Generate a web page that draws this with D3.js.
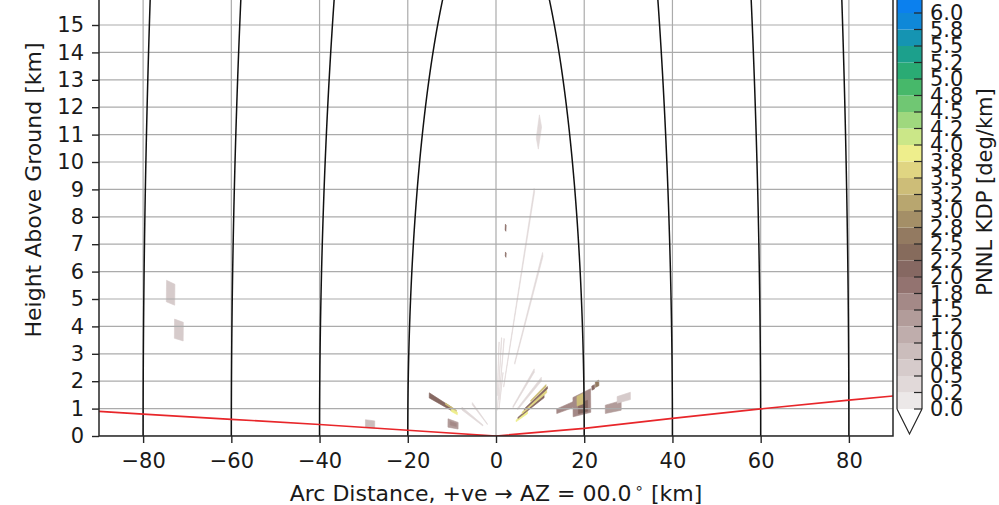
<!DOCTYPE html>
<html>
<head>
<meta charset="utf-8">
<script src="https://cdn.jsdelivr.net/npm/d3@7"></script>
<style>
  body { margin: 0; background: #fff; }
  svg { display: block; }
  text { font-family: "DejaVu Sans", sans-serif; fill: #1a1a1a; }
</style>
</head>
<body>
<svg id="chart" width="999" height="505"></svg>
<script>
// ---- axis ticks ----
const xTicks = [-80, -60, -40, -20, 0, 20, 40, 60, 80];
const yTicks = [0, 1, 2, 3, 4, 5, 6, 7, 8, 9, 10, 11, 12, 13, 14, 15];

// ---- slant-range rings (km) ----
const rangeRings = [20, 40, 60, 80];

// ---- lowest beam height along the cross-section ----
const beamDist   = [-90, -80, -60, -40, -20, 0, 20, 40, 60, 80, 90];
const beamHeight = [0.90, 0.80, 0.61, 0.42, 0.21, 0, 0.28, 0.64, 0.99, 1.31, 1.46];

// ---- KDP colour levels ----
const kdpLevels = [0, 0.25, 0.5, 0.75, 1.0, 1.25, 1.5, 1.75, 2.0, 2.25, 2.5, 2.75,
                   3.0, 3.25, 3.5, 3.75, 4.0, 4.25, 4.5, 4.75, 5.0, 5.25, 5.5, 5.75, 6.0];
const kdpTickLabels = ["0.0", "0.2", "0.5", "0.8", "1.0", "1.2", "1.5", "1.8", "2.0", "2.2", "2.5", "2.8",
                       "3.0", "3.2", "3.5", "3.8", "4.0", "4.2", "4.5", "4.8", "5.0", "5.2", "5.5", "5.8", "6.0"];
const kdpColors = ["#ece8e8", "#e1d9d9", "#d6cbcb", "#cbbdbc", "#bfadac", "#b29c9a", "#a48987",
                   "#937370", "#866862", "#866b5c", "#937a61", "#a48f67", "#b8a66f", "#cdbd78",
                   "#e0d582", "#eeee8c", "#cbe788", "#9fd87e", "#70c773", "#47b86a", "#2aab74",
                   "#1ca08c", "#1594b2", "#0f88d8", "#0b80ee"];

// ---- KDP gates: [side (+1/-1), elevation lo (deg), elevation hi (deg), range lo (km), range hi (km), KDP] ----
const kdpGates = [
  // far-range light echoes
  [-1, 3.75, 4.35, 73.0, 74.9, 0.6],
  [-1, 2.80, 3.35, 71.0, 73.0, 0.6],
  [-1, 0.60, 1.15, 27.5, 29.6, 0.9],
  // west of the radar
  [-1, 5.25, 5.95, 10.0, 15.2, 2.0],
  [-1, 5.05, 5.65, 8.8, 10.2, 3.9],
  [-1, 5.75, 6.00, 9.0, 11.5, 3.4],
  [-1, 1.70, 3.30, 8.6, 10.9, 1.3],
  [-1, 2.20, 2.90, 9.0, 10.4, 1.7],
  [-1, 7.0, 7.8, 3.0, 7.8, 0.4],
  [-1, 12.0, 12.8, 2.0, 5.5, 0.4],
  // east of the radar, near ground
  [1, 6.5, 7.3, 4.6, 7.2, 3.8],
  [1, 7.3, 7.8, 5.0, 11.0, 2.0],
  [1, 7.8, 8.4, 6.0, 11.6, 3.6],
  [1, 8.4, 8.8, 6.5, 11.8, 2.0],
  [1, 9.0, 9.4, 8.0, 11.5, 3.3],
  [1, 3.4, 4.1, 13.8, 17.5, 1.6],
  [1, 2.3, 4.6, 17.5, 21.5, 1.5],
  [1, 2.5, 3.6, 18.7, 20.8, 2.0],
  [1, 3.4, 4.5, 18.4, 19.9, 3.4],
  [1, 4.4, 4.8, 21.8, 22.4, 2.1],
  [1, 4.5, 5.0, 22.6, 23.4, 2.6],
  [1, 1.9, 2.6, 24.8, 28.4, 1.4],
  [1, 2.5, 3.0, 27.5, 30.5, 0.6],
  // weak returns aloft
  [1, 45.5, 46.3, 2.5, 12.5, 0.4],
  [1, 31.6, 32.4, 5.0, 12.5, 0.4],
  [1, 47.5, 50.0, 14.2, 15.3, 0.4],
  [1, 11.0, 11.8, 5.0, 10.5, 0.4],
  [1, 15.0, 15.8, 4.0, 9.0, 0.4],
  [1, 55.0, 56.0, 1.2, 2.8, 0.4],
  [1, 62.0, 63.0, 1.5, 4.0, 0.4],
  [1, 70.0, 71.0, 1.0, 3.8, 0.4],
  [1, 78.0, 79.0, 1.5, 3.5, 0.4],
  [1, 73.3, 74.6, 7.8, 8.02, 2.0],
  [1, 70.9, 72.3, 6.9, 7.05, 2.0]
];

// ---- layout ----
const svg = d3.select("#chart");
const plot = { left: 99, right: 893, bottom: 436 };
const x = d3.scaleLinear().domain([-90, 90]).range([plot.left, plot.right]);
const y = d3.scaleLinear().domain([0, 16]).range([plot.bottom, plot.bottom - 16 * 27.4]);
const plotTop = y(16);

const color = d3.scaleThreshold().domain(kdpLevels.slice(1)).range(kdpColors);

svg.append("defs").append("clipPath").attr("id", "plotClip")
  .append("rect").attr("x", plot.left).attr("y", plotTop)
  .attr("width", plot.right - plot.left).attr("height", plot.bottom - plotTop);

const inner = svg.append("g").attr("clip-path", "url(#plotClip)");

// gates as polar sectors mapped to arc distance / height
const deg = Math.PI / 180;
const gatePath = ([s, e0, e1, r0, r1]) => {
  const pts = [[r0, e0], [r1, e0], [r1, e1], [r0, e1]]
    .map(([r, e]) => [x(s * r * Math.cos(e * deg)), y(r * Math.sin(e * deg))]);
  return "M" + pts.map(p => p.join(",")).join("L") + "Z";
};
inner.append("g").selectAll("path").data(kdpGates).join("path")
  .attr("d", gatePath)
  .attr("fill", d => color(d[5]))
  .attr("stroke", d => color(d[5]))
  .attr("stroke-width", 0.6);

// grid
const grid = inner.append("g").attr("stroke", "#ababab").attr("stroke-width", 1.2);
grid.selectAll("line.v").data(xTicks).join("line").attr("class", "v")
  .attr("x1", d => x(d)).attr("x2", d => x(d)).attr("y1", plotTop).attr("y2", plot.bottom);
grid.selectAll("line.h").data(yTicks).join("line").attr("class", "h")
  .attr("x1", plot.left).attr("x2", plot.right).attr("y1", d => y(d)).attr("y2", d => y(d));

// range rings
const zSamples = d3.range(0, 16.01, 0.05);
const ringLine = d3.line().x(d => x(d[0])).y(d => y(d[1]));
rangeRings.forEach(r => {
  [-1, 1].forEach(s => {
    const pts = zSamples.filter(z => z <= r).map(z => [s * Math.sqrt(r * r - z * z), z]);
    inner.append("path").attr("d", ringLine(pts))
      .attr("fill", "none").attr("stroke", "#111").attr("stroke-width", 1.5);
  });
});

// lowest beam height
inner.append("path")
  .attr("d", d3.line().x(d => x(d)).y((d, i) => y(beamHeight[i]))(beamDist))
  .attr("fill", "none").attr("stroke", "#e8262a").attr("stroke-width", 1.7);

// spines
svg.append("rect").attr("x", plot.left).attr("y", plotTop)
  .attr("width", plot.right - plot.left).attr("height", plot.bottom - plotTop)
  .attr("fill", "none").attr("stroke", "#262626").attr("stroke-width", 1.5);

// axes
const fs = 21;
const xAxis = svg.append("g").attr("transform", `translate(0,${plot.bottom})`)
  .call(d3.axisBottom(x).tickValues(xTicks).tickSize(7).tickPadding(10));
const yAxis = svg.append("g").attr("transform", `translate(${plot.left},0)`)
  .call(d3.axisLeft(y).tickValues(yTicks).tickSize(7).tickPadding(8));
[xAxis, yAxis].forEach(a => {
  a.select(".domain").remove();
  a.selectAll("line").attr("stroke", "#262626").attr("stroke-width", 1.4);
  a.selectAll("text").style("font-size", fs + "px").attr("fill", "#1a1a1a");
});

// axis titles
const tfs = 22;
const xt = svg.append("text").attr("x", x(0)).attr("y", 501).attr("text-anchor", "middle")
  .style("font-size", tfs + "px");
xt.append("tspan").text("Arc Distance, +ve \u2192 AZ = 00.0");
xt.append("tspan").attr("dy", -8).style("font-size", "15px").text("\u2009\u2218");
xt.append("tspan").attr("dy", 8).text(" [km]");

svg.append("text")
  .attr("transform", `translate(41,190) rotate(-90)`)
  .attr("text-anchor", "middle").style("font-size", tfs + "px")
  .text("Height Above Ground [km]");

// ---- colour bar ----
const cb = { left: 897, right: 922 };
const cy = d3.scaleLinear().domain([0, 6]).range([409, 13]);
const cbg = svg.append("g");
cbg.selectAll("rect").data(kdpColors).join("rect")
  .attr("x", cb.left).attr("width", cb.right - cb.left)
  .attr("y", (d, i) => cy(i < kdpLevels.length - 1 ? kdpLevels[i + 1] : 6.5))
  .attr("height", (d, i) => cy(kdpLevels[i]) - cy(i < kdpLevels.length - 1 ? kdpLevels[i + 1] : 6.5))
  .attr("fill", d => d);
// under-range extension
const cbMid = (cb.left + cb.right) / 2;
cbg.append("path")
  .attr("d", `M${cb.left},${cy(0)}L${cbMid},${cy(0) + 25}L${cb.right},${cy(0)}`)
  .attr("fill", "#fff").attr("stroke", "#262626").attr("stroke-width", 1.2);
cbg.append("path")
  .attr("d", `M${cb.left},${cy(6.5)}V${cy(0)}M${cb.right},${cy(6.5)}V${cy(0)}`)
  .attr("stroke", "#262626").attr("stroke-width", 1.2);
cbg.selectAll("line.tick").data(kdpLevels).join("line").attr("class", "tick")
  .attr("x1", cb.right - 8).attr("x2", cb.right)
  .attr("y1", d => cy(d)).attr("y2", d => cy(d))
  .attr("stroke", "#262626").attr("stroke-width", 1.2);
cbg.selectAll("text").data(kdpLevels).join("text")
  .attr("x", 930).attr("y", d => cy(d)).attr("dy", "0.35em")
  .style("font-size", fs + "px")
  .text((d, i) => kdpTickLabels[i]);
svg.append("text")
  .attr("transform", `translate(985,192) rotate(-90)`)
  .attr("text-anchor", "middle").attr("dy", "0.35em").style("font-size", fs + "px")
  .text("PNNL KDP [deg/km]");
</script>
</body>
</html>
